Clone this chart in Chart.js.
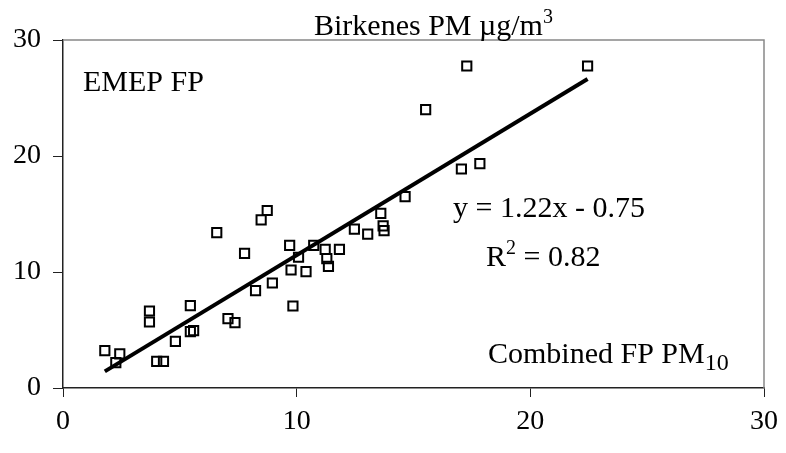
<!DOCTYPE html>
<html>
<head>
<meta charset="utf-8">
<script src="https://cdn.jsdelivr.net/npm/chart.js@4"></script>
<style>
  html, body { margin: 0; padding: 0; background: #fff; }
  #wrap { width: 786px; height: 453px; }
</style>
</head>
<body>
<div id="wrap"><canvas id="scatterChart" width="786" height="453"></canvas></div>
<script>
// Combined FP PM10 (x) vs EMEP FP (y)
var combinedFP = [1.79, 2.26, 2.43, 3.70, 3.70, 4.01, 4.30, 4.81, 5.45, 5.45,
                  5.59, 6.58, 7.06, 7.36, 7.77, 8.24, 8.48, 8.74, 8.96, 9.70,
                  9.76, 9.84, 10.08, 10.40, 10.73, 11.22, 11.29, 11.36, 11.83, 12.47,
                  13.04, 13.60, 13.70, 13.74, 14.64, 15.52, 17.05, 17.28, 17.84, 22.45];
var emepFP = [3.22, 2.18, 2.95, 6.64, 5.69, 2.30, 2.30, 4.02, 7.10, 4.86,
              4.94, 13.40, 5.98, 5.63, 11.60, 8.39, 14.50, 15.30, 9.05, 12.30,
              10.17, 7.07, 11.27, 10.03, 12.30, 11.95, 11.15, 10.48, 11.95, 13.70,
              13.27, 15.06, 13.97, 13.56, 16.49, 24.00, 18.88, 27.76, 19.35, 27.76];
var axisTicks = [0, 10, 20, 30];
var slope = 1.22;
var intercept = -0.75;

var points = combinedFP.map(function(x, i) { return {x: x, y: emepFP[i]}; });
var xMin = Math.min.apply(null, combinedFP);
var xMax = Math.max.apply(null, combinedFP);
var trend = [xMin, xMax].map(function(x) { return {x: x, y: slope * x + intercept}; });

var serif = "'Liberation Serif', 'Times New Roman', serif";

// draws the grey frame and the text notes
var notes = {
    id: 'notes',
    beforeDatasetsDraw: function(chart) {
        var a = chart.chartArea, ctx = chart.ctx;
        ctx.save();
        ctx.strokeStyle = '#888';
        ctx.lineWidth = 1.5;
        ctx.beginPath();
        ctx.moveTo(a.left, a.top);
        ctx.lineTo(a.right, a.top);
        ctx.lineTo(a.right, a.bottom);
        ctx.stroke();
        ctx.restore();
    },
    afterDraw: function(chart) {
        var ctx = chart.ctx;
        ctx.save();
        ctx.fillStyle = '#000';
        ctx.textBaseline = 'alphabetic';
        ctx.textAlign = 'left';
        var big = '30px ' + serif, small = '20px ' + serif;

        function withSup(x, y, main, sup, dy, supFont) {
            ctx.font = big;
            ctx.fillText(main, x, y);
            var w = ctx.measureText(main).width;
            ctx.font = supFont || small;
            ctx.fillText(sup, x + w, y + dy);
            return x + w + ctx.measureText(sup).width;
        }

        withSup(314, 35, 'Birkenes PM \u00b5g/m', '3', -12);
        ctx.font = big;
        ctx.fillText('EMEP FP', 83, 91);
        ctx.fillText('y = 1.22x - 0.75', 453, 217);
        var end = withSup(486, 266, 'R', '2', -12);
        ctx.font = big;
        ctx.fillText(' = 0.82', end, 266);
        withSup(488, 363, 'Combined FP PM', '10', 7, '24px ' + serif);
        ctx.restore();
    }
};

var ctx = document.getElementById('scatterChart').getContext('2d');
var myChart = new Chart(ctx, {
    type: 'scatter',
    data: {
        datasets: [{
            label: 'EMEP FP',
            data: points,
            pointStyle: 'rect',
            pointRadius: 6.5,
            pointHoverRadius: 6.5,
            borderColor: '#000',
            backgroundColor: 'rgba(0,0,0,0)',
            borderWidth: 2
        }, {
            type: 'line',
            label: 'Trend',
            data: trend,
            borderColor: '#000',
            borderWidth: 4,
            pointRadius: 0,
            fill: false
        }]
    },
    options: {
        responsive: false,
        animation: false,
        events: [],
        layout: { padding: { top: 40, right: 18, left: 0, bottom: 0 } },
        plugins: {
            legend: { display: false },
            tooltip: { enabled: false },
            title: { display: false }
        },
        scales: {
            x: {
                type: 'linear',
                min: 0,
                max: 30,
                afterBuildTicks: function(s) { s.ticks = axisTicks.map(function(v) { return {value: v}; }); },
                afterFit: function(s) { s.height = 65; },
                grid: { drawOnChartArea: false, tickLength: 9, color: '#222', tickColor: '#222' },
                border: { color: '#222', width: 1.5 },
                ticks: { color: '#000', padding: 8, font: { family: serif, size: 28 } }
            },
            y: {
                min: 0,
                max: 30,
                afterBuildTicks: function(s) { s.ticks = axisTicks.map(function(v) { return {value: v}; }); },
                afterFit: function(s) { s.width = 63; },
                grid: { drawOnChartArea: false, tickLength: 10, color: '#222', tickColor: '#222' },
                border: { color: '#222', width: 1.5 },
                ticks: { color: '#000', padding: 12, font: { family: serif, size: 28 } }
            }
        }
    },
    plugins: [notes]
});
</script>
</body>
</html>
